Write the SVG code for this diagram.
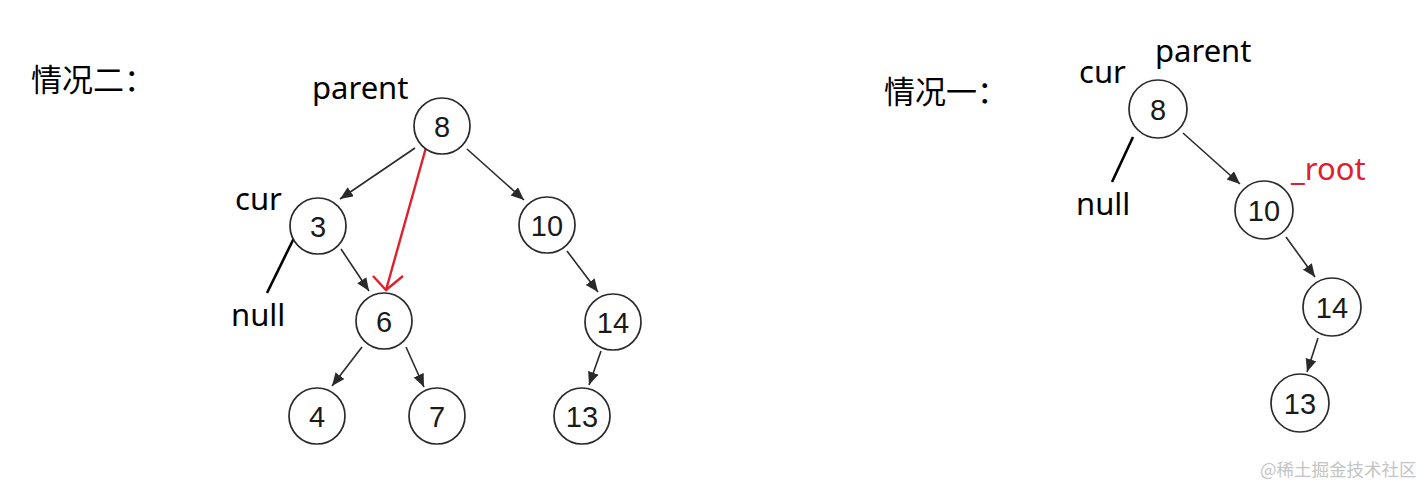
<svg xmlns="http://www.w3.org/2000/svg" width="1426" height="485" viewBox="0 0 1426 485">
<style>
.node circle{fill:#fff;stroke:#2a2a2a;stroke-width:1.7}
.node text{font-family:"Liberation Sans",Arial,sans-serif;font-size:29px;fill:#1a1a1a;text-anchor:middle}
.lbl{font-family:"Noto Sans","Open Sans",sans-serif;font-size:31px;fill:#000}
.cjk{font-family:"Noto Sans CJK SC","Noto Sans",sans-serif;font-size:31px;fill:#000}
.edge{stroke:#2a2a2a;stroke-width:1.6;fill:none}
.nul{stroke:#000;stroke-width:2.6}
.red{stroke:#e0202c;stroke-width:2.4;fill:none}
</style>
<defs>
<marker id="ah" markerUnits="userSpaceOnUse" markerWidth="16" markerHeight="12" refX="13" refY="5.5" orient="auto">
<path d="M0,0 L13,5.5 L0,11 Z" fill="#2a2a2a"/>
</marker>
</defs>
<rect width="1426" height="485" fill="#fff"/>

<text class="cjk" x="31" y="91">情况二：</text>
<text class="cjk" x="884" y="103">情况一：</text>

<g id="connectors">
<line class="edge" x1="415" y1="148" x2="340" y2="199" marker-end="url(#ah)"/>
<line class="edge" x1="467" y1="149" x2="524" y2="200" marker-end="url(#ah)"/>
<line class="edge" x1="341" y1="249" x2="369" y2="291" marker-end="url(#ah)"/>
<line class="edge" x1="567" y1="251" x2="598" y2="292" marker-end="url(#ah)"/>
<line class="edge" x1="362" y1="347" x2="332" y2="386" marker-end="url(#ah)"/>
<line class="edge" x1="406" y1="347" x2="424" y2="387" marker-end="url(#ah)"/>
<line class="edge" x1="601" y1="351" x2="589" y2="385" marker-end="url(#ah)"/>
<line class="nul" x1="294" y1="238" x2="267" y2="293"/>
<line class="red" x1="427" y1="144" x2="386" y2="290"/>
<path class="red" d="M373,276 L386,290 L403,276"/>
<line class="edge" x1="1183" y1="133" x2="1240" y2="184" marker-end="url(#ah)"/>
<line class="edge" x1="1286" y1="237" x2="1315" y2="277" marker-end="url(#ah)"/>
<line class="edge" x1="1318" y1="338" x2="1307" y2="372" marker-end="url(#ah)"/>
<line class="nul" x1="1133" y1="137" x2="1112" y2="182"/>
</g>

<g id="L8" class="node"><circle cx="442" cy="126" r="28"/><text x="442" y="136.5">8</text></g>
<g id="L3" class="node"><circle cx="318" cy="226" r="28"/><text x="318" y="236.5">3</text></g>
<g id="L10" class="node"><circle cx="547" cy="225" r="28"/><text x="547" y="235.5">10</text></g>
<g id="L6" class="node"><circle cx="384" cy="321" r="28"/><text x="384" y="331.5">6</text></g>
<g id="L14" class="node"><circle cx="613" cy="322" r="28"/><text x="613" y="332.5">14</text></g>
<g id="L4" class="node"><circle cx="317" cy="416" r="28"/><text x="317" y="426.5">4</text></g>
<g id="L7" class="node"><circle cx="437" cy="416" r="28"/><text x="437" y="426.5">7</text></g>
<g id="L13" class="node"><circle cx="582" cy="416" r="28"/><text x="582" y="426.5">13</text></g>

<g id="R8" class="node"><circle cx="1158" cy="109" r="29"/><text x="1158" y="119.5">8</text></g>
<g id="R10" class="node"><circle cx="1264" cy="210" r="29"/><text x="1264" y="220.5">10</text></g>
<g id="R14" class="node"><circle cx="1332" cy="307" r="29"/><text x="1332" y="317.5">14</text></g>
<g id="R13" class="node"><circle cx="1300" cy="403" r="29"/><text x="1300" y="413.5">13</text></g>

<g id="labels">
<text class="lbl" x="312" y="99">parent</text>
<text class="lbl" x="235" y="210">cur</text>
<text class="lbl" x="231" y="326">null</text>
<text class="lbl" x="1155" y="62">parent</text>
<text class="lbl" x="1079" y="83">cur</text>
<text class="lbl" x="1076" y="215">null</text>
<text class="lbl" x="1291" y="180" style="fill:#e0202c">_root</text>
</g>

<text x="1260" y="476" style="font-family:'Noto Sans CJK SC','Noto Sans',sans-serif;font-size:17.5px;fill:#c4c4c4">@稀土掘金技术社区</text>
</svg>
